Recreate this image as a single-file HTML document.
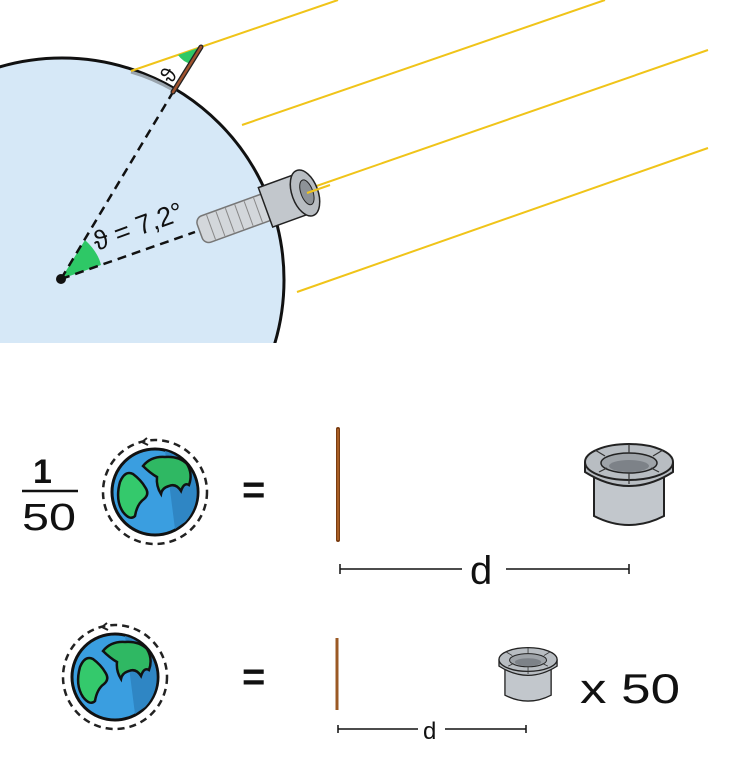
<!DOCTYPE html>
<html><head><meta charset="utf-8"><style>
html,body{margin:0;padding:0;background:#fff;}
svg{display:block;}
text{font-family:"Liberation Sans",sans-serif;fill:#111;}
</style></head><body>
<svg width="750" height="770" viewBox="0 0 750 770" xmlns="http://www.w3.org/2000/svg">
<defs>
<clipPath id="top"><rect x="0" y="0" width="750" height="343"/></clipPath>
<g id="earth">
 <circle r="52" fill="none" stroke="#222" stroke-width="2.5" stroke-dasharray="7,5"/>
 <path d="M-8,-54 l-5,4 l6,3" fill="none" stroke="#222" stroke-width="2"/>
 <circle r="43" fill="#3a9ee0" stroke="#111" stroke-width="3"/>
 <path d="M10,-41 A43,43 0 0 1 30,30 L20,37 Z" fill="#2f86c4"/>
 <path d="M-22,-18 q-8,-4 -13,8 q-5,18 3,30 q7,9 12,4 q2,-12 9,-17 q6,-5 1,-12 q-4,-7 -12,-13z" fill="#34c96c" stroke="#111" stroke-width="2.5"/>
 <path d="M-12,-26 q8,-10 22,-9 q14,-1 22,7 q6,10 2,21 q-5,-3 -8,6 q-5,-8 -12,-5 q-7,2 -8,8 q-5,-8 -4,-17 q-7,-4 -14,-11z" fill="#2fb863" stroke="#111" stroke-width="2.5"/>
</g>
<g id="scope">
 <path d="M9,30 L9,76 Q44,94 79,76 L79,30 Z" fill="#c2c7cc" stroke="#222" stroke-width="2"/>
 <path d="M0,22 v10 q44,28 88,0 v-10" fill="#b8bdc2" stroke="#222" stroke-width="2"/>
 <ellipse cx="44" cy="22" rx="44" ry="18" fill="#b8bdc2" stroke="#222" stroke-width="2"/>
 <ellipse cx="44" cy="23" rx="28" ry="10" fill="#9ea3a8" stroke="#222" stroke-width="1.5"/>
 <ellipse cx="44" cy="26" rx="20" ry="6" fill="#7d8288"/>
 <g stroke="#333" stroke-width="1.2"><line x1="10" y1="10" x2="20" y2="16"/><line x1="78" y1="10" x2="68" y2="16"/><line x1="44" y1="4" x2="44" y2="13"/><line x1="44" y1="33" x2="44" y2="44"/><line x1="14" y1="32" x2="22" y2="28"/><line x1="74" y1="32" x2="66" y2="28"/></g>
</g>
</defs>

<g clip-path="url(#top)">
 <circle cx="62" cy="280" r="222" fill="#d6e8f7" stroke="#111" stroke-width="3"/>
</g>
<path d="M131,72 Q152,78 173,90" fill="none" stroke="#9aa4ad" stroke-width="3"/>
<g stroke="#f0c419" stroke-width="2">
 <line x1="131" y1="71" x2="338" y2="0"/>
 <line x1="242" y1="125" x2="605" y2="0"/>
 <line x1="305" y1="190" x2="708" y2="50"/>
 <line x1="297" y1="292" x2="708" y2="148"/>
</g>
<path d="M201,47 L178,55 Q183,62 191,64 Z" fill="#2ec866"/>
<path d="M61,279 L85,240 Q98,252 101,265 Z" fill="#2ec866"/>
<g stroke="#111" stroke-width="2.5" stroke-dasharray="9,6" fill="none">
 <line x1="61" y1="279" x2="173" y2="92"/>
 <line x1="61" y1="279" x2="195" y2="232"/>
</g>
<circle cx="61" cy="279" r="5" fill="#111"/>
<line x1="173" y1="92" x2="201" y2="47" stroke="#222" stroke-width="5" stroke-linecap="round"/>
<line x1="173" y1="92" x2="201" y2="47" stroke="#a0522d" stroke-width="2.5" stroke-linecap="round"/>
<text x="0" y="0" font-size="22" transform="translate(172,84) rotate(-60)">ϑ</text>
<text x="0" y="0" font-size="27" transform="translate(97,251) rotate(-20)">ϑ = 7,2°</text>
<g transform="translate(305,193) rotate(-20)">
 <rect x="-112" y="-14" width="78" height="28" rx="7" fill="#d3d7db" stroke="#777" stroke-width="1.5"/>
 <g stroke="#888" stroke-width="1"><line x1="-100" y1="-13" x2="-100" y2="13"/><line x1="-90" y1="-13" x2="-90" y2="13"/><line x1="-80" y1="-13" x2="-80" y2="13"/><line x1="-70" y1="-13" x2="-70" y2="13"/><line x1="-60" y1="-13" x2="-60" y2="13"/><line x1="-50" y1="-13" x2="-50" y2="13"/></g>
 <rect x="-42" y="-21" width="40" height="42" fill="#c2c7cc" stroke="#222" stroke-width="1.5"/>
 <ellipse cx="0" cy="0" rx="13" ry="24" fill="#b8bdc2" stroke="#222" stroke-width="1.5"/>
 <ellipse cx="2" cy="0" rx="6" ry="13" fill="#8d9297" stroke="#222" stroke-width="1"/>
</g>
<line x1="307" y1="193" x2="330" y2="185" stroke="#f0c419" stroke-width="2"/>

<text x="33" y="483" font-size="34" font-weight="bold">1</text>
<line x1="22" y1="491" x2="78" y2="491" stroke="#111" stroke-width="2.5"/>
<text x="22" y="530" font-size="38" textLength="54" lengthAdjust="spacingAndGlyphs">50</text>
<use href="#earth" x="155" y="492"/>
<use href="#earth" x="115" y="677"/>
<text x="242" y="503" font-size="40" font-weight="bold">=</text>
<text x="242" y="690" font-size="40" font-weight="bold">=</text>
<line x1="338" y1="429" x2="338" y2="540" stroke="#7a3d12" stroke-width="4" stroke-linecap="round"/>
<line x1="338" y1="429" x2="338" y2="540" stroke="#b86a2a" stroke-width="1.5"/>
<line x1="337" y1="638" x2="337" y2="710" stroke="#9b5a25" stroke-width="3"/>
<g stroke="#111" stroke-width="1.5">
 <line x1="340" y1="569" x2="462" y2="569"/><line x1="506" y1="569" x2="629" y2="569"/>
 <line x1="340" y1="564" x2="340" y2="574"/><line x1="629" y1="564" x2="629" y2="574"/>
 <line x1="338" y1="729" x2="418" y2="729"/><line x1="445" y1="729" x2="526" y2="729"/>
 <line x1="338" y1="725" x2="338" y2="733"/><line x1="526" y1="725" x2="526" y2="733"/>
</g>
<text x="470" y="584" font-size="40">d</text>
<text x="423" y="739" font-size="24">d</text>
<use href="#scope" transform="translate(585,440)"/>
<use href="#scope" transform="translate(499,645) scale(0.66)"/>
<text x="580" y="703" font-size="42" textLength="100" lengthAdjust="spacingAndGlyphs">x 50</text>
</svg>
</body></html>
